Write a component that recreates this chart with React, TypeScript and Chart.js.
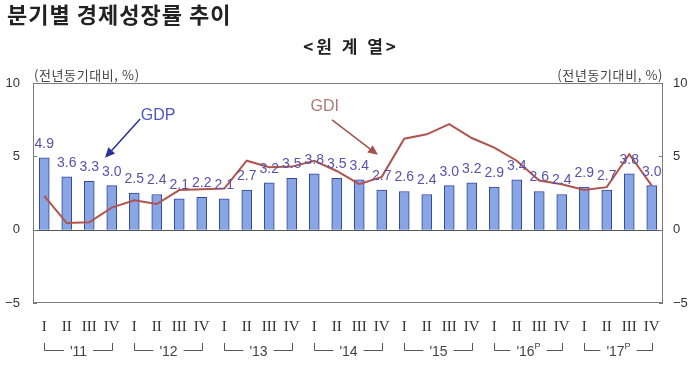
import { useEffect, useRef } from 'react';
import { Chart, registerables } from 'chart.js';

Chart.register(...registerables);

const title = '분기별 경제성장률 추이';
const subtitle = '<원 계 열>';
const unitText = '(전년동기대비, %)';
const years = ["'11", "'12", "'13", "'14", "'15", "'16", "'17"];
const yearMarks = ['', '', '', '', '', 'P', 'P'];
const quarterNames = ['I', 'II', 'III', 'IV'];
const gdp = [4.9, 3.6, 3.3, 3.0, 2.5, 2.4, 2.1, 2.2, 2.1, 2.7, 3.2, 3.5, 3.8, 3.5, 3.4, 2.7, 2.6, 2.4, 3.0, 3.2, 2.9, 3.4, 2.6, 2.4, 2.9, 2.7, 3.8, 3.0];
const gdi = [2.3, 0.45, 0.5, 1.5, 2.0, 1.75, 2.7, 2.75, 2.8, 4.7, 4.25, 4.3, 4.7, 4.0, 3.1, 3.6, 6.2, 6.5, 7.2, 6.25, 5.6, 4.7, 3.35, 3.1, 2.7, 2.9, 5.15, 3.0];
const yTicks = [10, 5, 0, -5];
const yTickText = ['10', '5', '0', '−5'];
const categories = years.flatMap((yr) => quarterNames.map((q) => `${yr} ${q}`));

const SANS = '"Liberation Sans", Arial, sans-serif';
const KR = '"Noto Sans CJK KR", sans-serif';
const SERIF = '"Liberation Serif", "DejaVu Serif", serif';

function arrow(ctx: CanvasRenderingContext2D, x1: number, y1: number, x2: number, y2: number, color: string) {
  const ang = Math.atan2(y2 - y1, x2 - x1);
  const hl = 10, hw = 4.5;
  const bx = x2 - hl * Math.cos(ang), by = y2 - hl * Math.sin(ang);
  ctx.strokeStyle = color;
  ctx.fillStyle = color;
  ctx.lineWidth = 1.5;
  ctx.beginPath();
  ctx.moveTo(x1, y1);
  ctx.lineTo(bx, by);
  ctx.stroke();
  ctx.beginPath();
  ctx.moveTo(x2, y2);
  ctx.lineTo(bx + hw * Math.sin(ang), by - hw * Math.cos(ang));
  ctx.lineTo(bx - hw * Math.sin(ang), by + hw * Math.cos(ang));
  ctx.closePath();
  ctx.fill();
}

const overlay = {
  id: 'overlay',
  beforeDatasetsDraw(chart: any) {
    const { ctx, chartArea: a, scales } = chart;
    const y = scales.y;
    ctx.save();
    ctx.strokeStyle = '#7a7a7a';
    ctx.lineWidth = 1;
    ctx.strokeRect(Math.round(a.left) + 0.5, Math.round(a.top) + 0.5, Math.round(a.right - a.left) - 1, Math.round(a.bottom - a.top) - 1);
    const y0 = Math.round(y.getPixelForValue(0)) + 0.5;
    ctx.strokeStyle = '#555';
    ctx.beginPath();
    ctx.moveTo(a.left, y0);
    ctx.lineTo(a.right, y0);
    ctx.stroke();
    ctx.strokeStyle = '#7a7a7a';
    yTicks.forEach((v) => {
      const py = Math.round(y.getPixelForValue(v)) + 0.5;
      ctx.beginPath();
      ctx.moveTo(a.left, py);
      ctx.lineTo(a.left + 4, py);
      ctx.moveTo(a.right - 4, py);
      ctx.lineTo(a.right, py);
      ctx.stroke();
    });
    ctx.restore();
  },
  afterDatasetsDraw(chart: any) {
    const { ctx, scales } = chart;
    const x = scales.x, y = scales.y;
    ctx.save();
    ctx.font = `14px ${SANS}`;
    ctx.fillStyle = '#5752ad';
    ctx.textAlign = 'center';
    ctx.textBaseline = 'middle';
    gdp.forEach((v, i) => {
      ctx.fillText(v.toFixed(1), x.getPixelForValue(i), y.getPixelForValue(v) - 14);
    });
    ctx.font = `16px ${SANS}`;
    ctx.fillStyle = '#4d55c8';
    ctx.fillText('GDP', x.getPixelForValue(5.06), y.getPixelForValue(7.8));
    arrow(ctx, x.getPixelForValue(4.26), y.getPixelForValue(7.55), x.getPixelForValue(2.7), y.getPixelForValue(4.9), '#2b309a');
    ctx.fillStyle = '#ad7a76';
    ctx.fillText('GDI', x.getPixelForValue(12.47), y.getPixelForValue(8.37));
    arrow(ctx, x.getPixelForValue(12.79), y.getPixelForValue(7.48), x.getPixelForValue(14.83), y.getPixelForValue(5.1), '#a5524c');
    ctx.restore();
  },
  afterDraw(chart: any) {
    const { ctx, chartArea: a, scales, width } = chart;
    const x = scales.x, y = scales.y;
    ctx.save();
    ctx.fillStyle = '#222';
    ctx.textBaseline = 'middle';
    ctx.textAlign = 'left';
    ctx.font = `bold 22px ${KR}`;
    (ctx as any).letterSpacing = '1px';
    ctx.fillText(title, 7, 15);
    ctx.textAlign = 'center';
    ctx.font = `bold 17px ${KR}`;
    (ctx as any).letterSpacing = '3px';
    ctx.fillText(subtitle, width / 2 + 1, 47);
    ctx.font = `13px ${KR}`;
    (ctx as any).letterSpacing = '0.6px';
    ctx.fillStyle = '#444';
    ctx.textAlign = 'left';
    ctx.fillText(unitText, a.left + 1, a.top - 8);
    ctx.textAlign = 'right';
    ctx.fillText(unitText, a.right, a.top - 8);
    (ctx as any).letterSpacing = '0px';
    ctx.font = `13px ${SANS}`;
    ctx.fillStyle = '#333';
    yTicks.forEach((v, i) => {
      const py = y.getPixelForValue(v);
      ctx.textAlign = 'right';
      ctx.fillText(yTickText[i], a.left - 13, py);
      ctx.textAlign = 'left';
      ctx.fillText(yTickText[i], a.right + 10, py);
    });
    ctx.font = `15px ${SERIF}`;
    ctx.fillStyle = '#333';
    ctx.textAlign = 'center';
    categories.forEach((_, i) => {
      ctx.fillText(quarterNames[i % 4], x.getPixelForValue(i), a.bottom + 24);
    });
    const by = a.bottom + 47;
    ctx.strokeStyle = '#555';
    ctx.lineWidth = 1;
    years.forEach((yr, g) => {
      const xl = Math.round(x.getPixelForValue(g * 4)) + 0.5;
      const xr = Math.round(x.getPixelForValue(g * 4 + 3)) + 0.5;
      const xm = (xl + xr) / 2;
      ctx.font = `14px ${SANS}`;
      const w1 = ctx.measureText(yr).width;
      ctx.font = `9px ${SANS}`;
      const w2 = yearMarks[g] ? ctx.measureText(yearMarks[g]).width : 0;
      const tw = w1 + w2;
      const tx = xm - tw / 2;
      ctx.beginPath();
      ctx.moveTo(xl, by - 7);
      ctx.lineTo(xl, by + 0.5);
      ctx.lineTo(tx - 6, by + 0.5);
      ctx.moveTo(tx + tw + 6, by + 0.5);
      ctx.lineTo(xr, by + 0.5);
      ctx.lineTo(xr, by - 7);
      ctx.stroke();
      ctx.textAlign = 'left';
      ctx.fillStyle = '#444';
      ctx.font = `14px ${SANS}`;
      ctx.fillText(yr, tx, by + 2);
      if (yearMarks[g]) {
        ctx.font = `9px ${SANS}`;
        ctx.fillText(yearMarks[g], tx + w1, by - 3);
      }
    });
    ctx.restore();
  },
};

export default function App() {
  const ref = useRef<HTMLCanvasElement | null>(null);
  useEffect(() => {
    if (!ref.current) return;
    const chart = new Chart(ref.current, {
      type: 'bar',
      data: {
        labels: categories,
        datasets: [
          {
            type: 'line',
            label: 'GDI',
            data: gdi,
            borderColor: '#b0544d',
            borderWidth: 2,
            pointRadius: 0,
            tension: 0,
            fill: false,
            order: 0,
          } as any,
          {
            type: 'bar',
            label: 'GDP',
            data: gdp,
            backgroundColor: '#88a6e4',
            borderColor: '#34449a',
            borderWidth: 1,
            barThickness: 10,
            order: 1,
          },
        ],
      },
      options: {
        responsive: false,
        animation: false,
        layout: { padding: { left: 33, right: 37, top: 83, bottom: 63 } },
        scales: {
          x: { type: 'category', display: false, offset: true, grid: { display: false } },
          y: { display: false, min: -5, max: 10 },
        },
        plugins: { legend: { display: false }, tooltip: { enabled: false } },
      },
      plugins: [overlay],
    });
    return () => chart.destroy();
  }, []);
  return (
    <div style={{ position: 'absolute', left: 0, top: 0, width: 700, height: 366, background: '#fff' }}>
      <canvas ref={ref} width={700} height={366} style={{ width: 700, height: 366 }} />
    </div>
  );
}
